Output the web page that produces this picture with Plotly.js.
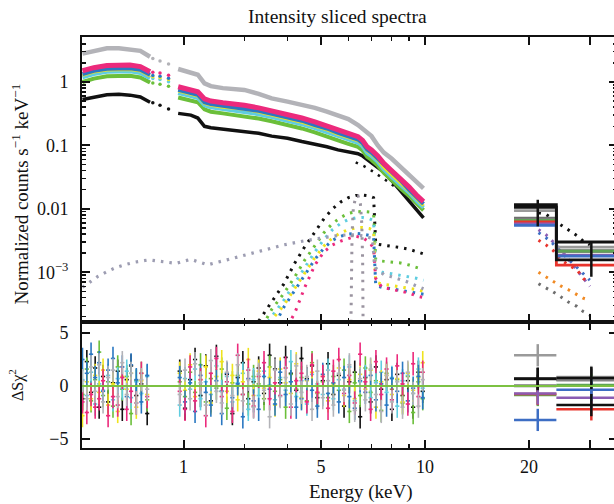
<!DOCTYPE html>
<html><head><meta charset="utf-8">
<script src="https://cdn.plot.ly/plotly-3.0.1.min.js"></script>
<style>html,body{margin:0;padding:0;overflow:hidden;background:#fff}#chart{width:617px;height:504px}</style>
</head><body><div id="chart"></div>
<script>
// ---------- soft X-ray spectra (top panel) ----------
const dataE_lo = [1.02,1.1,1.2,1.3,1.4,1.5,1.6];
const dataE_hi = [1.93,2.0,2.1,2.2,2.3,2.4,2.6,2.8,3.0,3.3,3.6,4.0,4.4,4.8,5.2,5.6,6.0,6.4,6.6,6.8,7.0,7.3,7.6,8.0,8.5,9.0,9.5,9.9];

const gray_lo   = [2.8,3.1,3.4,3.4,3.3,3.1,2.5];
const gray_hi   = [1.6,1.5,1.42,1.3,0.95,0.86,0.80,0.78,0.75,0.65,0.55,0.49,0.44,0.39,0.34,0.29,0.26,0.21,0.18,0.16,0.14,0.10,0.077,0.062,0.046,0.035,0.026,0.021];
const pink_lo   = [1.5,1.68,1.82,1.86,1.85,1.75,1.45];
const pink_hi   = [0.84,0.79,0.75,0.70,0.54,0.50,0.47,0.45,0.43,0.39,0.35,0.31,0.27,0.235,0.205,0.175,0.155,0.137,0.12,0.095,0.085,0.068,0.052,0.040,0.030,0.022,0.016,0.013];
const blue_lo   = [1.33,1.5,1.62,1.66,1.65,1.56,1.3];
const blue_hi   = [0.75,0.71,0.67,0.63,0.48,0.45,0.42,0.40,0.385,0.35,0.315,0.28,0.245,0.21,0.185,0.158,0.14,0.124,0.108,0.086,0.077,0.062,0.048,0.037,0.028,0.020,0.015,0.012];
const yellow_lo = [1.27,1.43,1.55,1.58,1.57,1.49,1.24];
const yellow_hi = [0.72,0.68,0.64,0.60,0.46,0.43,0.40,0.385,0.37,0.335,0.30,0.265,0.232,0.20,0.176,0.15,0.133,0.118,0.103,0.082,0.073,0.059,0.045,0.035,0.026,0.019,0.014,0.0112];
const cyan_lo   = [1.18,1.33,1.45,1.48,1.47,1.39,1.15];
const cyan_hi   = [0.67,0.63,0.60,0.56,0.43,0.40,0.375,0.36,0.345,0.31,0.28,0.248,0.216,0.188,0.164,0.14,0.124,0.11,0.096,0.076,0.068,0.055,0.042,0.032,0.024,0.018,0.013,0.0105];
const green_lo  = [1.0,1.13,1.23,1.26,1.25,1.18,0.98];
const green_hi  = [0.57,0.54,0.51,0.48,0.37,0.34,0.32,0.305,0.29,0.265,0.24,0.21,0.185,0.16,0.14,0.12,0.106,0.095,0.083,0.066,0.059,0.048,0.037,0.028,0.021,0.016,0.0117,0.0095];
const black_lo  = [0.53,0.58,0.63,0.64,0.62,0.58,0.48];
const black_hi  = [0.32,0.31,0.30,0.27,0.20,0.19,0.18,0.172,0.165,0.155,0.14,0.13,0.115,0.105,0.095,0.085,0.078,0.074,0.068,0.060,0.055,0.046,0.038,0.028,0.019,0.013,0.0095,0.0072];

// model values shown as dots in the 1.6-1.93 keV gap
const gapE = [1.63,1.71,1.81];
const gray_gap   = [2.35,2.14,1.92];
const pink_gap   = [1.42,1.38,1.28];
const blue_gap   = [1.27,1.23,1.14];
const yellow_gap = [1.21,1.17,1.09];
const cyan_gap   = [1.13,1.09,1.01];
const green_gap  = [0.96,0.92,0.86];
const black_gap  = [0.47,0.43,0.376];

// black total model where it departs from the data
const blackModelE = [6.3,6.66,7.0,7.4,7.8,8.2];
const blackModel  = [0.054,0.047,0.040,0.033,0.027,0.022];

// continuum component
const contE = [1.02,1.07,1.13,1.2,1.28,1.35,1.45,1.59,1.71,1.9,2.1,2.35,2.67,3.0,3.4,3.9,4.5,5.0,5.5,5.9,6.3,6.7,7.05,7.15,7.6,8.0,8.8,9.5,9.9];
const contV = [5.8e-4,7.0e-4,8.6e-4,1.02e-3,1.2e-3,1.31e-3,1.45e-3,1.57e-3,1.5e-3,1.38e-3,1.6e-3,1.31e-3,1.57e-3,1.85e-3,2.25e-3,2.7e-3,3.15e-3,3.5e-3,3.75e-3,3.87e-3,3.9e-3,3.7e-3,3.4e-3,1.2e-3,9.2e-4,8.5e-4,7.2e-4,6.0e-4,5.5e-4];

// narrow Gaussian component
const gaussE = [6.10,6.13,6.15,6.2,6.3,6.4,6.5,6.56,6.6,6.62];
const gaussV = [1.2e-4,1e-3,4e-3,0.010,0.0155,0.016,0.012,6e-3,1.5e-3,1.2e-4];

// broad line / reflection components (null = below the plotted range)
const lineE = [3.3,3.6,3.9,4.2,4.5,4.8,5.1,5.4,5.7,6.0,6.3,6.6,6.9,7.1,7.2,7.5,8.0,8.5,9.0,9.5,9.9];
const line_black  = [1.7e-4,3.5e-4,6.5e-4,1.4e-3,2.6e-3,4.3e-3,7e-3,0.010,0.0128,0.0150,0.0162,0.0165,0.0160,0.0150,2.8e-3,2.7e-3,2.6e-3,2.45e-3,2.3e-3,2.1e-3,1.95e-3];
const line_green  = [1.1e-4,2.6e-4,4.6e-4,8.5e-4,1.6e-3,2.6e-3,4.2e-3,5.9e-3,7.3e-3,8.5e-3,9.0e-3,9.1e-3,8.9e-3,8.4e-3,1.6e-3,1.5e-3,1.45e-3,1.4e-3,1.3e-3,1.2e-3,1.1e-3];
const line_cyan   = [1.0e-4,2.0e-4,3.6e-4,6.8e-4,1.25e-3,2.1e-3,3.3e-3,4.7e-3,5.9e-3,6.8e-3,7.2e-3,7.3e-3,7.0e-3,6.5e-3,1.1e-3,1.0e-3,9.5e-4,9e-4,8.5e-4,8e-4,7.5e-4];
const line_yellow = [1.0e-4,1.75e-4,3.0e-4,5.6e-4,1.0e-3,1.7e-3,2.6e-3,3.5e-3,4.2e-3,4.7e-3,5.0e-3,5.1e-3,4.9e-3,4.5e-3,7e-4,6.5e-4,6.2e-4,5.9e-4,5.6e-4,5.3e-4,5.0e-4];
const line_blue   = [null,1.2e-4,2.8e-4,5.2e-4,9.5e-4,1.6e-3,2.4e-3,3.2e-3,3.7e-3,4.0e-3,4.1e-3,4.0e-3,3.8e-3,3.5e-3,6.2e-4,5.8e-4,5.5e-4,5.2e-4,5.0e-4,4.7e-4,4.5e-4];
const line_pink   = [null,null,1.1e-4,2.3e-4,6e-4,1.3e-3,2.1e-3,2.7e-3,3.1e-3,3.4e-3,3.7e-3,3.5e-3,3.0e-3,2.4e-3,8e-4,5.8e-4,5.4e-4,5.0e-4,4.7e-4,4.2e-4,4.0e-4];

// ---------- hard X-ray bins ----------
const hxEdges   = [18.1,24.0,38.0];
const hxCenters = [21.2,30.3];
const hx_grayL  = [9.4e-3,2.5e-3];
const hx_grayD  = [7.1e-3,2.2e-3];
const hx_grayM  = [6.7e-3,2.1e-3];
const hx_green  = [6.6e-3,2.15e-3];
const hx_red    = [6.2e-3,1.3e-3];
const hx_purple = [5.8e-3,1.85e-3];
const hx_blue   = [5.5e-3,1.8e-3];
const hx_blackA = [0.0116,3.0e-3];
const hx_blackB = [0.0106,1.57e-3];
const hx_blackB_errPlus  = [3.3e-3,1.43e-3];
const hx_blackB_errMinus = [5.3e-3,7.2e-4];

const hxModE = [21.3,22.4,23.5,24.7,26.0,27.5,28.7,30.0];
const hxMod_black  = [8.7e-3,8.2e-3,6.7e-3,5.6e-3,4.6e-3,3.8e-3,3.1e-3,2.7e-3];
const hxMod_purple = [4.7e-3,3.9e-3,3.0e-3,2.3e-3,1.6e-3,1.1e-3,8e-4,6e-4];
const hxMod_blue   = [4.2e-3,3.5e-3,2.8e-3,2.1e-3,1.6e-3,1.2e-3,9.5e-4,7.5e-4];
const hxMod_red    = [3.2e-3,2.7e-3,2.2e-3,1.6e-3,1.3e-3,1.1e-3,8.0e-4,6.8e-4];
const hxMod_orange = [1.0e-3,8.4e-4,7.2e-4,6.1e-4,5.3e-4,4.5e-4,3.9e-4,3.6e-4];
const hxMod_gray   = [6.6e-4,5.7e-4,4.9e-4,4.1e-4,3.4e-4,2.9e-4,2.4e-4,2.1e-4];

// hard X-ray residuals
const hxRes_grayL  = [2.9,0.85];
const hxRes_grayD  = [0.0,0.6];
const hxRes_grayM  = [0.05,0.55];
const hxRes_green  = [-0.85,0.1];
const hxRes_red    = [-0.75,-2.2];
const hxRes_purple = [-0.7,-1.1];
const hxRes_blue   = [-3.2,-0.35];
const hxRes_blackA = [0.7,0.75];
const hxRes_blackB = [0.65,-1.8];

// ---------- soft residuals ----------
const resE_lo = [1.02,1.05,1.08,1.11,1.14,1.17,1.21,1.25,1.29,1.33,1.37,1.41,1.46,1.51,1.57];
const resE_hi = [1.95,2.02,2.09,2.16,2.24,2.32,2.40,2.49,2.58,2.67,2.77,2.87,2.97,3.08,3.19,3.30,3.42,3.55,3.68,3.81,3.95,4.09,4.24,4.39,4.55,4.71,4.88,5.06,5.24,5.43,5.63,5.83,6.04,6.26,6.49,6.72,6.96,7.21,7.47,7.74,8.02,8.31,8.61,8.92,9.24,9.57,9.85];
const res_gray_lo = [0.5,-1.2,1.8,-0.5,2.0,-1.5,0.8,1.5,-1.0,2.2,-0.8,1.2,-1.6,0.6,-0.3];
const res_gray_hi = [-0.8,1.5,-1.2,2.1,0.3,-1.8,2.4,-0.5,-1.6,1.3,-0.9,2.0,-1.4,0.6,-2.0,1.1,-0.4,-2.9,1.5,-1.0,0.8,-1.7,1.9,-0.6,0.9,-2.2,1.4,-1.1,0.5,-1.8,1.2,-0.4,2.0,-2.3,0.7,-1.3,1.6,-0.8,-2.4,1.0,-1.5,0.4,-2.0,1.3,-0.7,-1.9,0.6];
const res_pink_lo = [-1.5,-2.5,-0.8,-2.0,-1.2,0.5,-2.8,-1.0,-1.8,0.8,-2.2,-0.5,-1.6,1.2,-1.0];
const res_pink_hi = [-0.5,-2.2,1.8,-1.4,0.6,-2.8,1.2,2.6,-1.0,0.4,-2.4,2.9,-0.8,1.5,-1.9,0.9,2.2,-1.2,0.3,-0.9,1.7,-2.0,0.5,1.2,-1.5,2.0,-0.6,0.9,-2.1,1.4,2.5,-0.7,1.0,-1.6,3.0,0.4,-2.2,2.3,-0.8,1.6,-1.3,1.9,0.2,-1.7,2.1,-1.0,1.3];
const res_blue_lo = [2.5,1.2,3.0,0.8,2.2,-0.5,1.5,2.6,0.3,1.8,-1.0,2.0,0.6,-1.5,1.0];
const res_blue_hi = [0.8,-1.5,0.3,-2.4,1.0,-0.6,-1.8,0.5,-2.6,1.2,-1.1,0.2,-2.9,0.7,-1.4,-2.2,0.9,-0.3,-1.7,1.3,-0.8,0.4,-2.0,-1.2,0.6,-0.4,-1.9,1.1,-0.7,0.3,-1.5,0.8,-1.0,-2.1,0.5,-0.6,1.0,-1.3,0.2,-1.8,0.7,-0.5,1.2,-1.4,-0.2,0.9,-1.1];
const res_yellow_lo = [-2.8,0.4,-1.2,1.0,-0.6,1.5,-1.8,0.2,-2.4,0.9,-0.3,1.2,-2.0,0.5,-0.8];
const res_yellow_hi = [1.2,-0.4,2.0,-1.0,0.6,1.8,-1.6,0.9,2.3,-0.5,1.0,-1.3,0.4,2.5,-0.9,1.4,-0.2,0.8,-1.8,1.6,0.3,-0.7,2.1,-1.1,0.5,1.3,-0.6,0.9,-1.4,0.2,1.7,-0.9,0.6,-1.2,1.1,-0.3,1.5,-2.0,0.4,1.0,-0.8,0.7,-1.5,1.2,-0.4,0.8,2.2];
const res_cyan_lo = [0.6,-0.9,1.3,-1.7,0.2,-0.4,1.0,-1.3,0.7,-0.2,1.4,-1.1,0.4,-0.7,0.9];
const res_cyan_hi = [-1.8,0.7,-0.3,1.6,-1.2,0.4,-0.8,1.9,-0.5,0.9,-1.5,0.3,1.2,-2.2,0.6,-0.9,1.4,0.1,-1.3,0.8,-0.4,2.3,-1.0,0.5,-1.7,1.1,0.2,-0.8,1.5,-1.2,0.6,-0.3,1.8,-1.4,0.4,0.9,-1.1,0.3,1.3,-0.6,0.8,-1.9,0.5,1.0,-0.7,1.6,-0.2];
const res_green_lo = [-0.8,1.6,-1.4,0.6,3.2,-0.9,0.4,-1.9,1.8,-0.3,0.9,-2.6,0.5,1.2,-1.3];
const res_green_hi = [0.4,-1.0,1.3,-0.6,2.0,-1.5,0.7,-0.2,1.6,-2.1,0.3,1.0,-0.8,-1.7,0.9,0.2,-1.2,1.8,-0.5,0.6,-2.0,1.1,-0.3,0.8,-1.4,2.2,-0.7,0.4,-1.1,0.9,-0.4,1.5,-2.4,0.3,-0.9,1.7,-0.6,0.5,-2.3,1.2,-0.3,0.6,-1.6,0.9,-2.5,0.4,-1.2];
const res_black_lo = [-1.2,2.3,-0.6,1.7,-2.0,0.9,-1.5,0.3,1.4,-2.2,0.6,1.9,-0.9,0.2,-2.6];
const res_black_hi = [1.4,-2.1,0.6,2.5,-0.9,1.9,-1.4,2.8,-0.5,1.1,-2.6,0.8,2.2,-1.2,0.4,1.7,-0.7,2.9,1.6,0.3,2.7,1.2,-0.4,2.6,0.7,1.9,-1.1,0.5,2.1,-0.8,1.0,-1.9,0.4,1.3,-2.9,0.8,-1.5,1.8,-0.3,0.6,-2.2,1.1,-0.9,0.5,-2.0,1.3,-0.5];

// axis tick labels
const xTickVals = [2,5,10,20,30];
const xTickText = ['1','5','10','20',''];
const xMinorVals = [3,4,6,7,8,9];
const yTickVals = [1e-3,1e-2,0.1,1];
const yTickText = ['10<sup>\u22123</sup>','0.01','0.1','1'];
const rTickVals = [-5,0,5];
const rTickText = ['\u22125','0','5'];

// ---------- styles ----------
const C = {gray:'#b3b3b8', pink:'#ec2a7c', blue:'#2a78c2', yellow:'#efe31e', cyan:'#5fcde0', green:'#6bbf3a', black:'#111111',
  hgrayL:'#9a9a9a', hgrayD:'#6e6e6e', hgrayM:'#858585', hgreen:'#5fa456', hred:'#e8342c', hpurple:'#8a5cb3', hblue:'#3d6ec4', horange:'#f08a24'};
const DOT = '2.5px,6px';

const soft = [
  ['black', black_lo, black_hi, black_gap, 3.5, res_black_lo, res_black_hi],
  ['green', green_lo, green_hi, green_gap, 4, res_green_lo, res_green_hi],
  ['cyan', cyan_lo, cyan_hi, cyan_gap, 4, res_cyan_lo, res_cyan_hi],
  ['yellow', yellow_lo, yellow_hi, yellow_gap, 3, res_yellow_lo, res_yellow_hi],
  ['blue', blue_lo, blue_hi, blue_gap, 4, res_blue_lo, res_blue_hi],
  ['pink', pink_lo, pink_hi, pink_gap, 5, res_pink_lo, res_pink_hi],
  ['gray', gray_lo, gray_hi, gray_gap, 4.5, res_gray_lo, res_gray_hi]
];

const traces = [];
// low components
const lines = [['black',line_black],['green',line_green],['cyan',line_cyan],['yellow',line_yellow],['blue',line_blue],['pink',line_pink]];
lines.forEach(([c,v]) => traces.push({x:lineE, y:v, mode:'lines', line:{color:C[c], width:3, dash:DOT}, connectgaps:false, xaxis:'x', yaxis:'y'}));
traces.push({x:contE, y:contV, mode:'lines', line:{color:'#9d9db2', width:3.2, dash:DOT}, xaxis:'x', yaxis:'y'});
traces.push({x:gaussE, y:gaussV, mode:'lines', line:{color:'#9a94a0', width:3, dash:DOT}, xaxis:'x', yaxis:'y'});
traces.push({x:blackModelE, y:blackModel, mode:'lines', line:{color:C.black, width:2.5, dash:DOT}, xaxis:'x', yaxis:'y'});

soft.forEach(([c, lo, hi, gap, w]) => {
  traces.push({x: dataE_lo.concat([1.75], dataE_hi), y: lo.concat([null], hi), mode:'lines', line:{color:C[c], width:w}, connectgaps:false, xaxis:'x', yaxis:'y'});
  traces.push({x: gapE, y: gap, mode:'markers', marker:{color:C[c], size:3.5}, xaxis:'x', yaxis:'y'});
});

// hard model dots
[['purple',hxMod_purple],['blue',hxMod_blue],['red',hxMod_red],['orange',hxMod_orange],['grayD',hxMod_gray],['black',hxMod_black]].forEach(([c,v]) => {
  const col = c==='black' ? C.black : C['h'+c];
  traces.push({x:hxModE, y:v, mode:'lines', line:{color:col, width:3, dash:DOT}, xaxis:'x', yaxis:'y'});
});
// hard steps
const hard = [
  ['hgrayL', hx_grayL, hxRes_grayL], ['hgrayD', hx_grayD, hxRes_grayD], ['hgrayM', hx_grayM, hxRes_grayM],
  ['hgreen', hx_green, hxRes_green], ['hred', hx_red, hxRes_red], ['hpurple', hx_purple, hxRes_purple],
  ['hblue', hx_blue, hxRes_blue], ['black', hx_blackA, hxRes_blackA], ['black', hx_blackB, hxRes_blackB]
];
hard.forEach(([c, v]) => {
  traces.push({x:hxEdges, y:[v[0], v[1], v[1]], mode:'lines', line:{color:C[c], width:2.8, shape:'hv'}, xaxis:'x', yaxis:'y'});
});
traces.push({x:hxCenters, y:hx_blackB, mode:'markers', marker:{size:1, color:C.black},
  error_y:{type:'data', symmetric:false, array:hx_blackB_errPlus, arrayminus:hx_blackB_errMinus, color:C.black, thickness:2.5, width:0},
  xaxis:'x', yaxis:'y'});

// residuals
soft.forEach(([c, lo, hi, gap, w, rlo, rhi]) => {
  traces.push({x: resE_lo.concat(resE_hi), y: rlo.concat(rhi), mode:'markers', marker:{size:2, color:C[c]},
    error_y:{type:'constant', value:1.1, color:C[c], thickness:1.6, width:0},
    error_x:{type:'percent', value:1.4, color:C[c], thickness:1.6, width:0},
    xaxis:'x2', yaxis:'y2'});
});
hard.forEach(([c, v, r]) => {
  traces.push({x: hxCenters, y: r, mode:'markers', marker:{size:2, color:C[c]},
    error_y:{type:'constant', value:1.05, color:C[c], thickness:2.5, width:0},
    error_x:{type:'data', symmetric:false, array:[2.8,7.7], arrayminus:[3.1,6.3], color:C[c], thickness:2.5, width:0},
    xaxis:'x2', yaxis:'y2'});
});

// minor ticks for the log y axis
const yMinor = [];
for (let d = -4; d <= 0; d++) for (let k = 2; k <= 9; k++) yMinor.push(k * Math.pow(10, d));

const axCommon = {showline:true, linewidth:2, linecolor:'#111', mirror:'ticks', ticks:'inside', tickwidth:2, tickcolor:'#111', showgrid:false, zeroline:false};
const F = 'Liberation Serif, Times New Roman, serif';
const layout = {
  width:617, height:504, margin:{l:82, r:0, t:37, b:56},
  paper_bgcolor:'#fff', plot_bgcolor:'#fff', showlegend:false,
  font:{family:F, size:18, color:'#111'},
  xaxis: Object.assign({}, axCommon, {type:'log', range:[0.0072,1.5557], anchor:'y', tickmode:'array', tickvals:xTickVals, ticktext:xTickText, showticklabels:false, ticklen:8,
    minor:{tickmode:'array', tickvals:xMinorVals, ticks:'inside', ticklen:4, tickwidth:1.5, tickcolor:'#111'}}),
  yaxis: Object.assign({}, axCommon, {type:'log', range:[-3.784,0.709], domain:[0.30657,1], anchor:'x', tickmode:'array', tickvals:yTickVals, ticktext:yTickText, ticklen:8, ticklabelstandoff:8,
    minor:{tickmode:'array', tickvals:yMinor, ticks:'inside', ticklen:4, tickwidth:1.5, tickcolor:'#111'}}),
  xaxis2: Object.assign({}, axCommon, {type:'log', range:[0.0072,1.5557], anchor:'y2', tickmode:'array', tickvals:xTickVals, ticktext:xTickText, ticklen:8, ticklabelstandoff:1,
    minor:{tickmode:'array', tickvals:xMinorVals, ticks:'inside', ticklen:4, tickwidth:1.5, tickcolor:'#111'}}),
  yaxis2: Object.assign({}, axCommon, {range:[-5.85,6.04], domain:[0,0.30657], anchor:'x2', tickmode:'array', tickvals:rTickVals, ticktext:rTickText, ticklen:8, ticklabelstandoff:8}),
  shapes:[{type:'line', xref:'paper', x0:0, x1:1, yref:'y2', y0:0, y1:0, line:{color:'#7cc142', width:2.2}}],
  annotations:[
    {text:'Intensity sliced spectra', xref:'paper', yref:'paper', x:0.4785, y:1.0487, xanchor:'center', yanchor:'middle', showarrow:false, font:{family:F, size:19.5, color:'#111'}},
    {text:'Energy (keV)', xref:'paper', yref:'paper', x:0.5215, y:-0.107, xanchor:'center', yanchor:'middle', showarrow:false, font:{family:F, size:19, color:'#111'}},
    {text:'Normalized counts s<sup>\u22121</sup> keV<sup>\u22121</sup>', xref:'paper', yref:'paper', x:-0.1159, y:0.6192, xanchor:'center', yanchor:'middle', textangle:-90, showarrow:false, font:{family:F, size:19, color:'#111'}},
    {text:'\u0394S\u03c7<sup>2</sup>', xref:'paper', yref:'paper', x:-0.1215, y:0.1533, xanchor:'center', yanchor:'middle', textangle:-90, showarrow:false, font:{family:F, size:16, color:'#111'}}
  ]
};
Plotly.newPlot('chart', traces, layout, {staticPlot:true, displayModeBar:false});
</script></body></html>
